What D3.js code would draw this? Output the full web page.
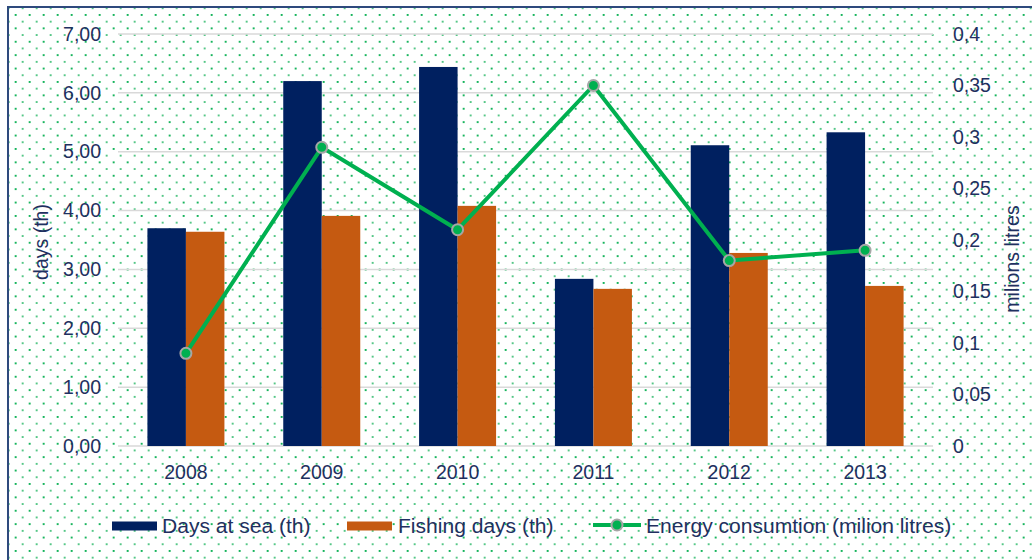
<!DOCTYPE html>
<html>
<head>
<meta charset="utf-8">
<script src="https://cdn.jsdelivr.net/npm/d3@7"></script>
<style>
  html, body { margin: 0; padding: 0; background: #fff; }
  svg { display: block; font-family: "Liberation Sans", Arial, sans-serif; }
</style>
</head>
<body>
<svg id="chart" width="1032" height="560"></svg>
<script>
// Fleet activity and energy use, 2008–2013
const years = ["2008", "2009", "2010", "2011", "2012", "2013"];
const daysAtSea = [3.70, 6.20, 6.44, 2.84, 5.11, 5.33];
const fishingDays = [3.64, 3.91, 4.08, 2.67, 3.28, 2.72];
const energy = [0.09, 0.29, 0.21, 0.35, 0.18, 0.19];

const leftTicks = [0, 1, 2, 3, 4, 5, 6, 7];
const rightTicks = [0, 0.05, 0.1, 0.15, 0.2, 0.25, 0.3, 0.35, 0.4];

const seriesNames = ["Days at sea (th)", "Fishing days (th)", "Energy consumtion (milion litres)"];
const colors = { sea: "#002060", fish: "#c55a11", energy: "#00b050", text: "#1f3060", grid: "#d9d9d9" };

const svg = d3.select("#chart");
const W = 1032, H = 560;

// decimal comma formatting
const locale = d3.formatLocale({ decimal: ",", thousands: ".", grouping: [3], currency: ["", ""] });
const fmtLeft = locale.format(".2f");
const fmtRight = v => locale.format("~f")(+v.toFixed(2));

// dotted background fill
const defs = svg.append("defs");
const pat = defs.append("pattern")
  .attr("id", "dots").attr("patternUnits", "userSpaceOnUse")
  .attr("x", 0.7).attr("y", 0.6)
  .attr("width", 14).attr("height", 13.4);
pat.append("rect").attr("x", 0).attr("y", 0).attr("width", 1.9).attr("height", 1.9).attr("fill", "#0fb257");
pat.append("rect").attr("x", 7).attr("y", 6.7).attr("width", 1.9).attr("height", 1.9).attr("fill", "#4fc582");

svg.append("rect").attr("width", W).attr("height", H).attr("fill", "#fff");
svg.append("rect").attr("x", 9).attr("y", 8).attr("width", W - 9).attr("height", H - 8).attr("fill", "url(#dots)");

// frame (top and left edges)
svg.append("path")
  .attr("d", `M8,${H} V7 H${W}`)
  .attr("fill", "none").attr("stroke", "#2e4a7d").attr("stroke-width", 2);

const plot = { left: 118, right: 933, top: 34, bottom: 446 };

const x = d3.scaleBand().domain(years).range([plot.left, plot.right]).paddingInner(0).paddingOuter(0);
const yL = d3.scaleLinear().domain([0, 7]).range([plot.bottom, plot.top]);
const yR = d3.scaleLinear().domain([0, 0.4]).range([plot.bottom, plot.top]);

// gridlines
svg.append("g").selectAll("line").data(leftTicks).join("line")
  .attr("x1", plot.left).attr("x2", plot.right)
  .attr("y1", d => yL(d)).attr("y2", d => yL(d))
  .attr("stroke", colors.grid).attr("stroke-width", 1.5);

// bars
const barW = 38.5;
const groups = svg.append("g");
groups.selectAll("rect.sea").data(years).join("rect")
  .attr("class", "sea")
  .attr("x", d => x(d) + x.bandwidth() / 2 - barW)
  .attr("y", (d, i) => yL(daysAtSea[i]))
  .attr("width", barW)
  .attr("height", (d, i) => yL(0) - yL(daysAtSea[i]))
  .attr("fill", colors.sea);
groups.selectAll("rect.fish").data(years).join("rect")
  .attr("class", "fish")
  .attr("x", d => x(d) + x.bandwidth() / 2)
  .attr("y", (d, i) => yL(fishingDays[i]))
  .attr("width", barW)
  .attr("height", (d, i) => yL(0) - yL(fishingDays[i]))
  .attr("fill", colors.fish);

// energy line
const line = d3.line()
  .x((d, i) => x(years[i]) + x.bandwidth() / 2)
  .y(d => yR(d));
svg.append("path").datum(energy)
  .attr("d", line).attr("fill", "none")
  .attr("stroke", colors.energy).attr("stroke-width", 4).attr("stroke-linejoin", "round");
svg.append("g").selectAll("circle").data(energy).join("circle")
  .attr("cx", (d, i) => x(years[i]) + x.bandwidth() / 2)
  .attr("cy", d => yR(d))
  .attr("r", 5.5)
  .attr("fill", colors.energy)
  .attr("stroke", "#a6a6a6").attr("stroke-width", 2);

// axes
const fontSize = 19.5;
const axL = svg.append("g").attr("transform", `translate(${plot.left - 17},0)`)
  .call(d3.axisLeft(yL).tickValues(leftTicks).tickFormat(fmtLeft).tickSize(0).tickPadding(0));
const axR = svg.append("g").attr("transform", `translate(${plot.right + 20},0)`)
  .call(d3.axisRight(yR).tickValues(rightTicks).tickFormat(fmtRight).tickSize(0).tickPadding(0));
const axB = svg.append("g").attr("transform", `translate(0,${plot.bottom + 14})`)
  .call(d3.axisBottom(x).tickSize(0).tickPadding(0));
[axL, axR, axB].forEach(a => {
  a.select(".domain").remove();
  a.selectAll("text").attr("fill", colors.text).attr("font-size", fontSize)
    .attr("font-family", '"Liberation Sans", Arial, sans-serif');
});
axB.selectAll("text").attr("dy", "0.95em");

// axis titles
svg.append("text")
  .attr("transform", `translate(48,242) rotate(-90)`)
  .attr("text-anchor", "middle").attr("fill", colors.text).attr("font-size", fontSize)
  .text("days (th)");
svg.append("text")
  .attr("transform", `translate(1019,259) rotate(-90)`)
  .attr("text-anchor", "middle").attr("fill", colors.text).attr("font-size", fontSize)
  .text("milions litres");

// legend (labels slightly widened)
const lg = svg.append("g").attr("font-size", fontSize).attr("fill", colors.text);
const ly = 526;
const legendText = (x0, s) => lg.append("text")
  .attr("transform", `translate(${x0},${ly}) scale(1.08,1)`)
  .attr("dy", "0.35em").text(s);
lg.append("rect").attr("x", 112).attr("y", ly - 4.5).attr("width", 45).attr("height", 9).attr("fill", colors.sea);
legendText(162, seriesNames[0]);
lg.append("rect").attr("x", 347).attr("y", ly - 4.5).attr("width", 45).attr("height", 9).attr("fill", colors.fish);
legendText(398, seriesNames[1]);
lg.append("line").attr("x1", 593).attr("x2", 641).attr("y1", ly - 1).attr("y2", ly - 1)
  .attr("stroke", colors.energy).attr("stroke-width", 4);
lg.append("circle").attr("cx", 617).attr("cy", ly - 1).attr("r", 5.5)
  .attr("fill", colors.energy).attr("stroke", "#a6a6a6").attr("stroke-width", 2);
legendText(646, seriesNames[2]);
</script>
</body>
</html>
